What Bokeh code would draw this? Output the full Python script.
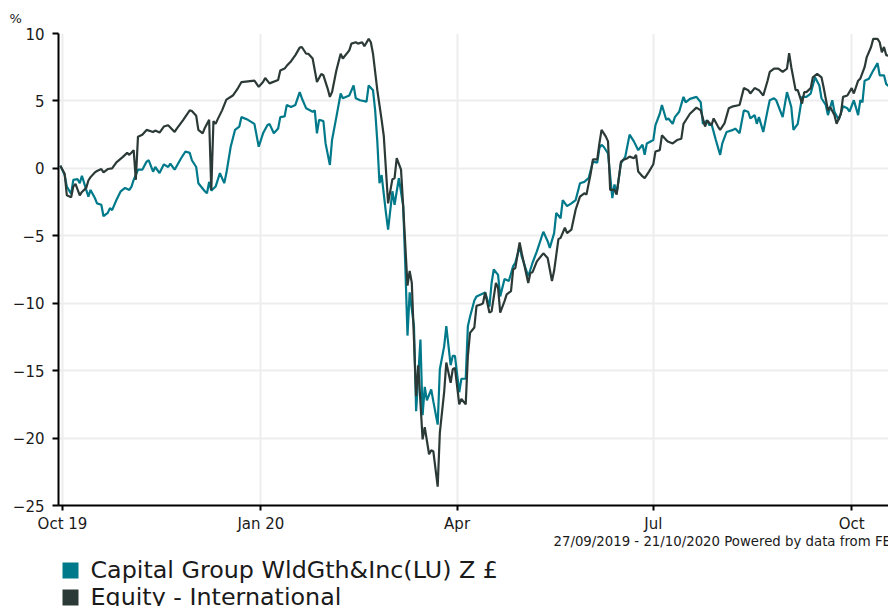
import pandas as pd
from bokeh.plotting import figure
from bokeh.layouts import column
from bokeh.models import FixedTicker, Range1d
from bokeh.core.properties import value
from bokeh.embed import file_html
from bokeh.resources import INLINE

# ---------------- data ----------------
BASE_DATE = "2019-10-01"          # day 0 of the day offsets below

fund_name = "Capital Group WldGth&Inc(LU) Z £"
fund_days = [
    -1, 1, 2, 4, 5, 7, 8, 9, 11, 12,
    13, 15, 16, 18, 19, 21, 22, 23, 25, 27,
    29, 31, 32, 33, 35, 37, 39, 40, 42, 43,
    45, 47, 49, 50, 52, 55, 57, 59, 60, 62,
    63, 66, 67, 68, 69, 71, 73, 75, 76, 78,
    80, 82, 83, 86, 89, 91, 93, 95, 96, 98,
    100, 101, 103, 104, 106, 108, 110, 111, 113, 116,
    117, 118, 119, 121, 122, 124, 125, 127, 129, 130,
    133, 135, 136, 138, 141, 142, 144, 145, 146, 147,
    148, 150, 151, 153, 154, 156, 158, 159, 160, 161,
    163, 164, 166, 167, 168, 169, 171, 172, 174, 175,
    177, 178, 180, 181, 182, 184, 185, 187, 188, 189,
    191, 192, 194, 196, 198, 199, 200, 202, 203, 205,
    207, 209, 210, 212, 213, 216, 218, 220, 223, 225,
    226, 228, 229, 231, 232, 234, 236, 238, 240, 242,
    244, 246, 248, 249, 250, 251, 253, 255, 256, 257,
    259, 261, 263, 265, 267, 269, 270, 271, 274, 275,
    277, 278, 280, 281, 283, 284, 286, 288, 289, 291,
    294, 296, 297, 299, 300, 301, 303, 305, 306, 308,
    311, 312, 314, 316, 318, 319, 321, 322, 323, 325,
    327, 328, 330, 331, 334, 336, 338, 339, 341, 343,
    345, 347, 349, 351, 352, 354, 355, 357, 358, 360,
    362, 364, 365, 367, 369, 370, 371, 372, 374, 376,
    378, 379, 381, 382, 384, 386,
]
fund_values = [
    0.2, -0.5, -1.35, -1.9, -0.85, -0.8, -1.1, -0.55, -1.6, -2.1,
    -1.6, -2.2, -2.6, -2.7, -3.55, -3.3, -2.95, -3.1, -2.35, -1.7,
    -1.45, -1.6, -1.35, -0.85, -0.1, -0.1, 0.5, 0.6, -0.25, 0.1,
    -0.35, 0.3, 0.1, 0.35, -0.1, 0.75, 1.25, 1.15, 0.6, 0.1,
    -1.1, -1.7, -1.85, -1.0, -1.65, -1.35, -0.35, -1.1, -0.35, 1.6,
    2.85, 3.1, 3.8, 3.6, 3.3, 1.6, 2.6, 3.2, 3.3, 2.6,
    2.95, 3.8, 3.85, 4.7, 4.55, 4.7, 5.65, 5.2, 4.45, 4.2,
    4.3, 2.6, 3.6, 3.5, 1.85, 0.25, 2.1, 3.8, 5.55, 5.2,
    5.4, 6.15, 5.2, 5.05, 4.95, 6.15, 5.8, 4.3, 2.0, -1.1,
    -0.5, -3.3, -4.55, -1.7, -2.7, -0.73, -2.8, -7.3, -12.4, -9.2,
    -11.7, -18.0, -12.7, -18.3, -16.2, -17.2, -16.4, -17.3, -19.0, -14.9,
    -13.2, -11.7, -14.6, -13.9, -13.9, -16.6, -15.6, -15.6, -11.7, -11.0,
    -9.8, -9.5, -9.35, -9.2, -10.25, -8.5, -7.5, -7.9, -9.5, -8.2,
    -8.35, -7.25, -7.0, -5.8, -6.55, -8.0, -7.0, -6.15, -4.7, -5.4,
    -5.9, -4.8, -3.3, -3.7, -2.35, -2.8, -2.6, -2.35, -1.1, -1.0,
    -0.73, 0.5, 0.43, 1.5, 1.75, 1.6, 1.1, -2.2, -1.2, -1.85,
    0.37, 0.86, 2.5, 2.0, 1.35, 1.75, 1.0, 1.85, 2.1, 3.2,
    4.05, 4.7, 3.6, 3.7, 3.3, 3.8, 4.2, 5.3, 4.9, 5.15,
    5.3, 4.9, 3.3, 3.55, 3.2, 3.3, 2.1, 1.0, 1.85, 2.7,
    2.85, 2.95, 2.6, 4.3, 4.2, 3.7, 3.95, 3.3, 3.8, 2.7,
    4.3, 5.05, 5.2, 5.05, 3.8, 5.65, 4.55, 2.85, 3.3, 5.3,
    5.3, 5.55, 6.75, 6.15, 5.2, 4.7, 3.95, 5.05, 4.2, 3.6,
    4.6, 4.45, 4.2, 5.05, 3.95, 5.05, 4.9, 6.5, 6.65, 7.25,
    7.8, 6.9, 6.9, 6.25, 6.0, 6.1,
]

sector_name = "Equity - International"
sector_days = [
    -1, 1, 2, 4, 5, 6, 8, 9, 11, 12,
    13, 15, 16, 18, 19, 21, 23, 25, 28, 30,
    31, 33, 34, 35, 37, 39, 42, 43, 45, 47,
    49, 52, 53, 56, 59, 60, 62, 63, 65, 66,
    68, 69, 70, 71, 72, 74, 76, 79, 81, 83,
    86, 89, 91, 93, 94, 96, 100, 101, 103, 104,
    106, 108, 110, 111, 113, 114, 116, 118, 120, 121,
    123, 124, 125, 127, 129, 130, 133, 134, 136, 137,
    139, 140, 142, 143, 144, 146, 148, 149, 151, 153,
    154, 155, 157, 158, 160, 161, 162, 164, 165, 167,
    168, 170, 171, 172, 174, 175, 177, 178, 180, 181,
    182, 184, 185, 187, 188, 189, 191, 192, 194, 195,
    196, 198, 199, 201, 202, 203, 205, 206, 208, 209,
    210, 212, 213, 216, 217, 218, 220, 223, 225, 227,
    228, 230, 231, 233, 234, 236, 238, 240, 242, 243,
    245, 246, 248, 249, 250, 252, 253, 254, 256, 257,
    259, 260, 262, 263, 265, 266, 267, 269, 270, 272,
    274, 275, 277, 278, 280, 281, 283, 285, 287, 288,
    289, 291, 294, 296, 298, 299, 301, 302, 304, 305,
    307, 309, 311, 314, 316, 318, 319, 321, 323, 325,
    327, 328, 330, 332, 334, 336, 337, 338, 340, 341,
    343, 344, 345, 347, 348, 350, 352, 353, 355, 356,
    358, 359, 361, 362, 364, 366, 367, 369, 370, 372,
    373, 375, 376, 378, 379, 380, 381, 382, 384, 386,
]
sector_values = [
    0.2, -0.4, -2.0, -2.15, -1.35, -1.15, -2.0, -1.75, -1.45, -0.9,
    -0.65, -0.3, -0.2, -0.05, -0.3, -0.05, 0.0, 0.45, 0.85, 1.15,
    1.0, 1.35, -0.85, 2.35, 2.5, 2.85, 2.7, 2.8, 2.65, 3.1,
    3.2, 2.7, 2.95, 3.6, 4.3, 4.25, 3.9, 2.85, 2.6, 3.0,
    3.6, -1.6, 3.5, 3.3, 3.65, 4.3, 5.1, 5.4, 5.85, 6.4,
    6.45, 6.5, 6.05, 6.4, 6.7, 6.3, 6.55, 7.25, 7.4, 7.6,
    7.95, 8.4, 8.95, 9.0, 8.5, 8.5, 8.15, 6.4, 7.0, 6.9,
    5.9, 5.3, 5.65, 7.25, 8.5, 8.15, 8.75, 9.25, 9.35, 9.25,
    9.35, 9.05, 9.6, 9.35, 8.5, 5.8, 3.6, 2.4, -2.6, -0.8,
    -0.73, 0.75, -0.1, -2.8, -8.7, -7.6, -8.5, -16.9, -14.6, -20.1,
    -19.2, -21.2, -20.9, -21.0, -23.6, -19.6, -16.6, -14.4, -15.9, -14.9,
    -14.8, -17.5, -17.1, -17.5, -13.9, -12.2, -11.8, -10.2, -10.1, -10.0,
    -9.2, -10.7, -10.6, -8.5, -8.85, -10.7, -9.85, -9.35, -9.1, -7.5,
    -7.4, -5.5, -6.3, -8.5, -7.75, -7.7, -6.9, -6.3, -6.65, -8.35,
    -7.6, -5.25, -5.15, -4.4, -4.8, -4.55, -3.05, -2.1, -1.85, -1.95,
    -0.35, 0.67, 0.67, 1.85, 2.85, 2.35, 2.0, -1.6, -1.6, -1.95,
    0.5, 0.62, 0.75, 0.87, 0.75, 1.0, -0.24, -0.6, -0.73, -0.24,
    0.3, 1.25, 1.35, 2.45, 2.1, 1.97, 1.85, 2.1, 2.2, 3.3,
    3.55, 4.05, 4.5, 4.3, 3.1, 3.55, 3.2, 3.7, 3.1, 2.85,
    3.33, 4.45, 4.6, 4.7, 5.95, 5.8, 5.55, 5.95, 5.8, 5.4,
    6.5, 7.15, 7.4, 7.4, 7.15, 7.4, 8.55, 7.5, 5.8, 5.8,
    4.8, 5.65, 5.65, 5.95, 6.75, 7.0, 6.75, 6.0, 4.3, 4.55,
    3.95, 3.3, 4.05, 5.3, 5.4, 5.95, 5.55, 6.5, 6.65, 7.5,
    8.25, 9.0, 9.6, 9.6, 9.35, 8.6, 9.0, 8.4, 8.3, 8.5,
]

tick_dates = ["2019-10-01", "2020-01-01", "2020-04-01", "2020-07-01", "2020-10-01"]
tick_labels = ["Oct 19", "Jan 20", "Apr", "Jul", "Oct"]
y_ticks = [-25, -20, -15, -10, -5, 0, 5, 10]
period_text = "27/09/2019 - 21/10/2020 Powered by data from FE"
unit_text = "%"
legend_names = [fund_name, sector_name]

# ---------------- style ----------------
FONT = "DejaVu Sans"
FUND_COLOR = "#007a8a"
SECTOR_COLOR = "#2c3a37"
legend_colors = [FUND_COLOR, SECTOR_COLOR]
TEXT_COLOR = "#1a1a1a"
GRID_COLOR = "#ededed"

base = pd.Timestamp(BASE_DATE)
fund_x = base + pd.to_timedelta(fund_days, unit="D")
sector_x = base + pd.to_timedelta(sector_days, unit="D")

# ---------------- main chart ----------------
p = figure(
    width=888, height=535,
    x_axis_type="datetime",
    x_range=Range1d(pd.Timestamp("2019-09-29 03:20"), pd.Timestamp("2020-10-18 02:00")),
    y_range=Range1d(-25, 10),
    output_backend="svg", toolbar_location=None,
    min_border_left=58, min_border_right=0, min_border_top=33, min_border_bottom=28,
)
p.outline_line_color = None
p.background_fill_color = "white"

# "%" unit as the title, shifted over the y-axis labels
p.title.text = unit_text
p.title.align = "left"
p.title.offset = -49
p.title.standoff = 16
p.title.text_font = FONT
p.title.text_font_size = "13px"
p.title.text_font_style = "normal"
p.title.text_color = TEXT_COLOR

p.xgrid.grid_line_color = GRID_COLOR
p.ygrid.grid_line_color = GRID_COLOR
p.xgrid.grid_line_width = 2
p.ygrid.grid_line_width = 2

tick_ms = [int(pd.Timestamp(d).value // 10**6) for d in tick_dates]
p.xaxis.ticker = FixedTicker(ticks=tick_ms)
p.xaxis.major_label_overrides = {t: lab for t, lab in zip(tick_ms, tick_labels)}
p.yaxis.ticker = FixedTicker(ticks=y_ticks)

for ax in (p.xaxis, p.yaxis):
    ax.axis_line_color = "black"
    ax.axis_line_width = 2
    ax.major_tick_line_color = "black"
    ax.major_tick_line_width = 2
    ax.major_tick_in = 0
    ax.minor_tick_line_color = None
    ax.major_label_text_font = FONT
    ax.major_label_text_font_size = "15px"
    ax.major_label_text_color = TEXT_COLOR
p.xaxis.major_tick_out = 5
p.xaxis.major_label_standoff = 4
p.yaxis.major_tick_out = 6
p.yaxis.major_label_standoff = 8

p.line(fund_x, fund_values, line_color=FUND_COLOR, line_width=2.2)
p.line(sector_x, sector_values, line_color=SECTOR_COLOR, line_width=2.2)

# ---------------- footer + legend strip (page-pixel units) ----------------
# the column aligns this strip's frame with the chart frame (x from 58 to 888)
STRIP_H = 71
q = figure(
    width=888, height=STRIP_H,
    x_range=Range1d(58, 888), y_range=Range1d(STRIP_H, 0),
    x_axis_type=None, y_axis_type=None,
    output_backend="svg", toolbar_location=None,
    min_border=0,
)
q.outline_line_color = None
q.grid.visible = False

q.text(x=[553], y=[6], text=[period_text], text_font=value(FONT),
       text_font_size="13.3px", text_color=TEXT_COLOR, text_baseline="alphabetic")

rows = list(range(len(legend_names)))
row_y = [35 + 27 * r for r in rows]
q.scatter(x=[70] * len(rows), y=row_y, marker="square", size=16,
          fill_color=legend_colors, line_color=None)
q.text(x=[90] * len(rows), y=[y - 1 for y in row_y], text=legend_names,
       text_font=value(FONT), text_font_size="23.8px", text_color=TEXT_COLOR,
       text_baseline="alphabetic")

layout = column(p, q, spacing=0)
open("out.html", "w").write(file_html(layout, INLINE))
